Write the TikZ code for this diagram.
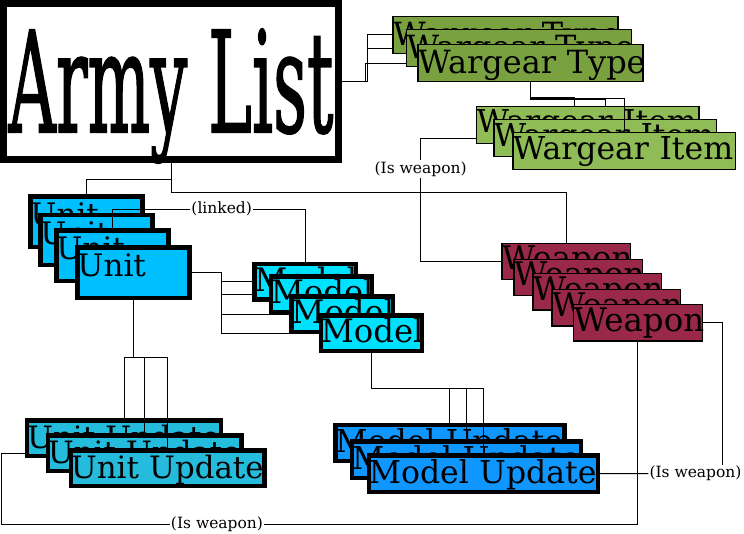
\documentclass[tikz,border=0pt]{standalone}
\usepackage{fontspec}
\setmainfont{DejaVu Serif}
\newfontfamily\armyfont{DejaVu Serif}[FakeBold=1.5]
\usepackage{graphicx}
\usetikzlibrary{backgrounds}
\definecolor{wtypecol}{RGB}{122,161,64}
\definecolor{witemcol}{RGB}{143,188,86}
\definecolor{unitcol}{RGB}{0,191,255}
\definecolor{modelcol}{RGB}{0,225,255}
\definecolor{uupdcol}{RGB}{36,187,221}
\definecolor{mupdcol}{RGB}{16,150,255}
\definecolor{weapcol}{RGB}{153,40,73}
\newcommand{\cardfont}[1]{\fontsize{#1}{#1}\selectfont}
\tikzset{
  army/.style={draw, line width=7pt, inner sep=0pt, minimum width=335pt, text height=128.5pt, text depth=27.5pt},
  slimcard/.style={draw, inner sep=0pt, anchor=north west, align=left, line width=1.2pt},
  boldcard/.style={draw, inner sep=0pt, anchor=north west, align=left, line width=4.3pt},
  wtype/.style={slimcard, fill=wtypecol, font=\cardfont{32}, text width=225pt, text height=29pt, text depth=7.6pt},
  witem/.style={slimcard, fill=witemcol, font=\cardfont{31.5}, text width=222.4pt, text height=26.3pt, text depth=10.4pt},
  weap/.style={slimcard, fill=weapcol, font=\cardfont{32.5}, text width=128.7pt, text height=26.7pt, text depth=9.5pt},
  unit/.style={boldcard, fill=unitcol, font=\cardfont{31}, text width=112pt, text height=29.2pt, text depth=21.2pt},
  model/.style={boldcard, fill=modelcol, font=\cardfont{32.3}, text width=101.3pt, text height=27.2pt, text depth=8.5pt},
  uupd/.style={boldcard, fill=uupdcol, font=\cardfont{30.8}, text width=193.7pt, text height=27.8pt, text depth=7.9pt},
  mupd/.style={boldcard, fill=mupdcol, font=\cardfont{31.5}, text width=229pt, text height=27.8pt, text depth=8.6pt},
  tag/.style={fill=white, inner sep=1pt, font=\cardfont{15.5}},
  wire/.style={line width=1pt}
}

\begin{document}
\begin{tikzpicture}[x=1pt, y=-1pt]
	\useasboundingbox (0,0) rectangle (744,534);
	% Army List
	\node[army, anchor=north west] (army) at (0,0) {\resizebox{325pt}{103pt}{\armyfont Army List}};
	
	% Wargear Type / Wargear Item
	\node[wtype] (wt1) at (392.3,16) {Wargear~Type};
	\node[wtype] (wt2) at (405.7,29.3) {Wargear~Type};
	\node[wtype] (wt3) at (417.3,44.3) {Wargear~Type};
	\node[witem] (wi1) at (476,106) {Wargear~Item};
	\node[witem] (wi2) at (493.3,119.3) {Wargear~Item};
	\node[witem] (wi3) at (512.3,132.3) {Wargear~Item};
	
	% Weapon
	\node[weap] (w1) at (501.3,242.7) {Weapon};
	\node[weap] (w2) at (513.3,258.7) {Weapon};
	\node[weap] (w3) at (532.3,273.3) {Weapon};
	\node[weap] (w4) at (551.3,289.3) {Weapon};
	\node[weap] (w5) at (573,304.3) {Weapon};
	
	% Unit / Model
	\node[unit] (u1) at (28.3,194.3) {Unit};
	\node[unit] (u2) at (38.3,212.7) {Unit};
	\node[unit] (u3) at (54.3,228.3) {Unit};
	\node[unit] (u4) at (75.3,245.3) {Unit};
	\node[model] (m1) at (252.3,261.7) {Model};
	\node[model] (m2) at (268.7,274.3) {Model};
	\node[model] (m3) at (289.3,294.3) {Model};
	\node[model] (m4) at (318.7,313.3) {Model};
	
	% Updates
	\node[uupd] (uu1) at (25,418.3) {Unit~Update};
	\node[uupd] (uu2) at (45.7,433.3) {Unit~Update};
	\node[uupd] (uu3) at (68.7,448.3) {Unit~Update};
	\node[mupd] (mu1) at (333.3,422.7) {Model~Update};
	\node[mupd] (mu2) at (350,439.3) {Model~Update};
	\node[mupd] (mu3) at (366.7,453.3) {Model~Update};
	
	% link labels
	\node[tag] (isw1) at (420.7,169) {(Is weapon)};
	\node[tag] (lnk) at (221.7,209.3) {(linked)};
	\node[tag] (isw2) at (695.5,473.7) {(Is weapon)};
	\node[tag] (isw3) at (217,524) {(Is weapon)};
	
	% hidden parts of the links
	\begin{scope}[on background layer]
		\draw[wire] (army.east) -- ++(25.7,0) |- (wt1.west);
		\draw[wire] (army.east) -- ++(25.7,0) |- (wt2.west);
		\draw[wire] (army.east) -- ++(23,0) |- (wt3.west);
		\draw[wire] (wt3.south) -- ++(0,15.4) -| ([xshift=-13pt]wi1.north);
		\draw[wire] (wt3.south) -- ++(0,17.7) -| (wi2.north);
		\draw[wire] (wi2.west) -| (isw1.north);
		\draw[wire] (isw3.west) -- ++(-168,0) |- (uu2.west);
		\foreach \m in {1,...,4} \draw[wire] (u4.east) -- ++(29.5,0) |- (m\m.west);
	\end{scope}
	
	% links
	\draw[wire] (army.south) -- ++(0,16.3) -| (u1.north);
	\draw[wire] (army.south) -- ++(0,29.5) -| (w1.north);
	\draw[wire] (wt3.south) -- ++(0,16) -| (wi3.north);
	\draw[wire] (isw1.south) |- (w1.west);
	\draw[wire] (u3.north) |- (lnk.west);
	\draw[wire] (lnk.east) -| (m1.north);
	\foreach \u in {1,2,3} \draw[wire] (u4.south) -- ++(0,58) -| (uu\u.north);
	\foreach \u in {1,2,3} \draw[wire] (m4.south) -- ++(0,35.4) -| (mu\u.north);
	\draw[wire] (mu3.east) -- (isw2.west);
	\draw[wire] (w5.east) -| ([xshift=27.2pt]isw2.north);
	\draw[wire] (w5.south) |- (isw3.east);
\end{tikzpicture}
\end{document}
